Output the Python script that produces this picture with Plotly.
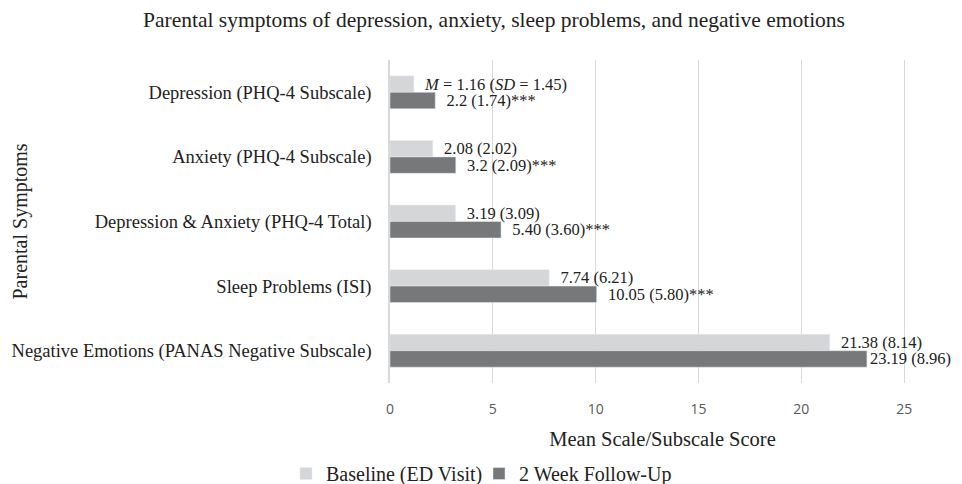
import plotly.graph_objects as go

categories = [
    "Depression (PHQ-4 Subscale)",
    "Anxiety (PHQ-4 Subscale)",
    "Depression & Anxiety (PHQ-4 Total)",
    "Sleep Problems (ISI)",
    "Negative Emotions (PANAS Negative Subscale)",
]
baseline = [1.16, 2.08, 3.19, 7.74, 21.38]
followup = [2.2, 3.2, 5.40, 10.05, 23.19]
baseline_labels = ["<i>M</i> = 1.16 (<i>SD</i> = 1.45)", "2.08 (2.02)", "3.19 (3.09)", "7.74 (6.21)", "21.38 (8.14)"]
followup_labels = ["2.2 (1.74)***", "3.2 (2.09)***", "5.40 (3.60)***", "10.05 (5.80)***", "23.19 (8.96)"]
x_ticks = [0, 5, 10, 15, 20, 25]

serif = "Liberation Serif"
pad = "\u00a0\u00a0"
W, H = 954, 476  # page body has an 8px offset
ML, MR, MT, MB = 382, 27, 52, 101
PW = W - ML - MR

# labels get a small lead-in gap, except where the chart edge forces them tight (as in the source)
base_text = [pad + t for t in baseline_labels]
follow_text = [(pad if i < len(followup_labels) - 1 else "") + t for i, t in enumerate(followup_labels)]

fig = go.Figure()
fig.add_trace(go.Bar(
    y=categories, x=baseline, orientation="h", name="Baseline (ED Visit)",
    marker=dict(color="#d5d6d8"), text=base_text, textposition="outside",
    texttemplate="%{text}", textfont=dict(family=serif, size=16.5, color="#222"),
    constraintext="none", cliponaxis=False, legendwidth=148,
))
fig.add_trace(go.Bar(
    y=categories, x=followup, orientation="h", name="2 Week Follow-Up",
    marker=dict(color="#77787a"), text=follow_text, textposition="outside",
    texttemplate="%{text}", textfont=dict(family=serif, size=16.5, color="#222"),
    constraintext="none", cliponaxis=False,
))
fig.update_layout(
    width=W, height=H,
    barmode="group", bargap=0.49, bargroupgap=0,
    paper_bgcolor="white", plot_bgcolor="white",
    margin=dict(l=ML, r=MR, t=MT, b=MB),
    title=dict(text="Parental symptoms of depression, anxiety, sleep problems, and negative emotions",
               x=486 / W, xref="container", xanchor="center", y=1 - 11 / H, yref="container",
               yanchor="middle", font=dict(family=serif, size=21.5, color="#222")),
    xaxis=dict(range=[0, 26.5], tickvals=x_ticks, showgrid=True, gridcolor="#d9d9d9",
               gridwidth=1, zeroline=False, showline=False, automargin=False,
               ticks="", ticklabelstandoff=16,
               tickfont=dict(family="Open Sans", size=14, color="#595959"),
               title=dict(text="Mean Scale/Subscale Score", font=dict(family=serif, size=20.5, color="#222"),
                          standoff=14)),
    yaxis=dict(autorange="reversed", showline=True, linecolor="#d9d9d9", linewidth=1.5,
               automargin=False, ticklabelstandoff=13,
               tickfont=dict(family=serif, size=18.5, color="#222"), ticks=""),
    annotations=[dict(text="Parental Symptoms", textangle=-90, xref="paper", yref="paper",
                      x=(12 - ML) / PW, y=0.5, xanchor="center", yanchor="middle", showarrow=False,
                      font=dict(family=serif, size=20, color="#222"))],
    legend=dict(orientation="h", xref="container", x=278 / W, xanchor="left", yref="container",
                y=0.022, yanchor="middle", font=dict(family=serif, size=20, color="#222"),
                bgcolor="rgba(0,0,0,0)", traceorder="normal"),
)
fig.write_html("out.html")
